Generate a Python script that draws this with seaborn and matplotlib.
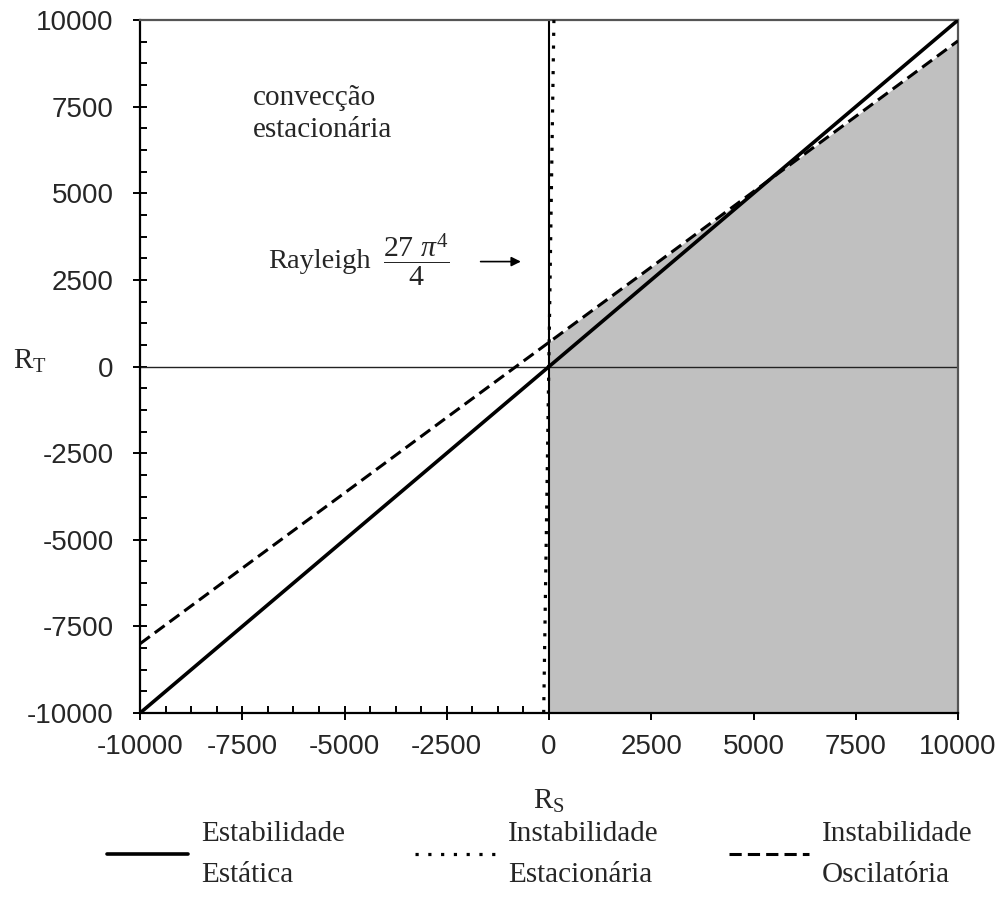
import numpy as np
import pandas as pd
import matplotlib
matplotlib.use("Agg")
import matplotlib.pyplot as plt
import seaborn as sns
from matplotlib.ticker import MultipleLocator

# Stability boundaries in the (R_S, R_T) plane
rs_static = [-10000, 10000]
rt_static = [-10000, 10000]

rs_stationary = [-130, 120]
rt_stationary = [-10000, 10000]

rs_oscillatory = [-10000, -7500, -5000, -2500, 0, 2500, 5000, 7500, 10000]
rt_oscillatory = [-8000, -5820, -3650, -1470, 700, 2870, 5050, 7220, 9400]

labels = ["Estabilidade\nEstática", "Instabilidade\nEstacionária", "Instabilidade\nOscilatória"]
ticks = [-10000, -7500, -5000, -2500, 0, 2500, 5000, 7500, 10000]

sns.set_style("white")
plt.rcParams["font.family"] = ["Liberation Serif", "DejaVu Serif"]
plt.rcParams["mathtext.fontset"] = "custom"
plt.rcParams["mathtext.rm"] = "Liberation Serif"
plt.rcParams["mathtext.it"] = "Liberation Serif:italic"

fig = plt.figure(figsize=(10, 9.13), dpi=100)
ax = fig.add_axes([0.14, 0.219, 0.818, 0.759])

# Shaded region: right of R_S = 0, below the oscillatory boundary
osc = pd.DataFrame({"RS": rs_oscillatory, "RT": rt_oscillatory})
pos = osc[osc["RS"] >= 0]
ax.fill_between(pos["RS"], -10000, pos["RT"], color="#c0c0c0", lw=0, zorder=1)

# Reference axes through the origin
ax.axhline(0, color="#222222", lw=1.0, zorder=2)
ax.axvline(0, color="black", lw=1.5, zorder=2)

sns.lineplot(x=rs_static, y=rt_static, ax=ax, color="black", lw=2.6,
             label=labels[0], zorder=4, sort=False)
sns.lineplot(x=rs_stationary, y=rt_stationary, ax=ax, color="black", lw=2.3,
             linestyle=(0, (1, 3)), label=labels[1], zorder=4, sort=False)
sns.lineplot(x=osc["RS"], y=osc["RT"], ax=ax, color="black", lw=2.2,
             linestyle=(0, (4, 2)), label=labels[2], zorder=4, sort=False)

ax.set_xlim(-10000, 10000)
ax.set_ylim(-10000, 10000)
ax.set_xticks(ticks)
ax.set_yticks(ticks)
ax.xaxis.set_minor_locator(MultipleLocator(625))
ax.yaxis.set_minor_locator(MultipleLocator(625))

tick_font = {"family": "Liberation Sans", "size": 20}
ax.set_xticklabels([str(t) for t in ticks], fontdict=tick_font)
ax.set_yticklabels([str(t) for t in ticks], fontdict=tick_font)

ax.tick_params(which="major", direction="inout", length=10, width=1.4,
               color="black", bottom=True, left=True, top=False, right=False)
ax.tick_params(axis="y", which="major", pad=14)
ax.tick_params(axis="x", which="major", pad=10)
ax.tick_params(which="minor", direction="in", length=5, width=1.4,
               color="black", bottom=True, left=True, top=False, right=False)

for side in ["left", "bottom"]:
    ax.spines[side].set_color("black")
    ax.spines[side].set_linewidth(1.6)
for side in ["top", "right"]:
    ax.spines[side].set_color("#555555")
    ax.spines[side].set_linewidth(1.6)

ax.set_xlabel(r"R$_\mathrm{S}$", fontsize=21)
ax.set_ylabel(r"R$_\mathrm{T}$", fontsize=21, rotation=0)
ax.xaxis.set_label_coords(0.5, -0.108)
ax.yaxis.set_label_coords(-0.134, 0.488)

ax.text(-7240, 7300, "convecção\nestacionária", fontsize=21,
        ha="left", va="center", linespacing=1.3)
ax.text(-6870, 3030, "Rayleigh", fontsize=20.5, ha="left", va="center")
ax.text(-3240, 3100, r"$\dfrac{27\ \pi^{4}}{4}$", fontsize=21.5,
        ha="center", va="center")
ax.annotate("", xy=(-620, 3030), xytext=(-1740, 3030),
            arrowprops=dict(arrowstyle="-|>", color="black", lw=1.2,
                            mutation_scale=14))

handles, lbls = ax.get_legend_handles_labels()
ax.get_legend().remove()
leg = fig.legend(handles, lbls, loc="center", bbox_to_anchor=(0.54, 0.064),
                 ncol=3, frameon=False, fontsize=21, handlelength=2.75,
                 handletextpad=0.45, columnspacing=2.4, labelspacing=0.2)
for t in leg.get_texts():
    t.set_linespacing(1.75)

fig.savefig("out.png", dpi=100, facecolor="white")
